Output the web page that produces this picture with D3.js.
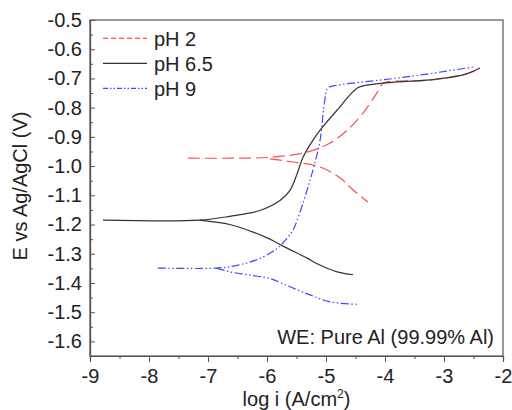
<!DOCTYPE html>
<html>
<head>
<meta charset="utf-8">
<script src="https://cdn.jsdelivr.net/npm/d3@7"></script>
<style>
  body { margin: 0; background: #fff; }
  svg text { font-family: "Liberation Sans", Arial, sans-serif; fill: #222; }
</style>
</head>
<body>
<svg id="chart" width="512" height="410"></svg>
<script>
// tick values
const xTicks = [-9, -8, -7, -6, -5, -4, -3, -2];
const yTicks = [-0.5, -0.6, -0.7, -0.8, -0.9, -1.0, -1.1, -1.2, -1.3, -1.4, -1.5, -1.6];

// pH 2 (red dashed) [log i, E]
const ph2Anodic = [[-7.34, -0.973], [-6.6, -0.973], [-5.95, -0.970], [-5.32, -0.952], [-4.93, -0.921],
  [-4.64, -0.877], [-4.37, -0.818], [-4.14, -0.750], [-4.03, -0.716], [-3.95, -0.711],
  [-3.24, -0.706], [-2.95, -0.697], [-2.61, -0.684], [-2.45, -0.672]];
const ph2Cathodic = [[-5.95, -0.975], [-5.56, -0.986], [-5.10, -1.003], [-4.76, -1.041],
  [-4.54, -1.082], [-4.29, -1.123]];

// pH 6.5 (black solid)
const ph65Anodic = [[-8.78, -1.185], [-7.14, -1.185], [-6.63, -1.172], [-6.12, -1.152], [-5.78, -1.118],
  [-5.61, -1.083], [-5.49, -1.026], [-5.39, -0.970], [-5.22, -0.911], [-5.10, -0.877],
  [-4.81, -0.808], [-4.47, -0.733], [-4.31, -0.723], [-3.80, -0.712], [-3.24, -0.705],
  [-2.68, -0.688], [-2.39, -0.664]];
const ph65Cathodic = [[-7.14, -1.185], [-6.63, -1.200], [-6.29, -1.222], [-5.95, -1.250],
  [-5.73, -1.274], [-5.32, -1.315], [-5.15, -1.334], [-4.81, -1.362], [-4.54, -1.372]];

// pH 9 (blue dash-dot-dot)
const ph9Anodic = [[-7.85, -1.349], [-6.85, -1.349], [-6.51, -1.340], [-6.12, -1.316], [-5.83, -1.282],
  [-5.69, -1.254], [-5.56, -1.219], [-5.39, -1.127], [-5.27, -1.048], [-5.19, -0.990],
  [-5.10, -0.911], [-5.02, -0.774], [-4.97, -0.733], [-4.81, -0.723], [-4.37, -0.712],
  [-3.80, -0.699], [-3.19, -0.682], [-2.51, -0.661]];
const ph9Cathodic = [[-6.85, -1.349], [-6.63, -1.362], [-6.29, -1.373], [-5.95, -1.385],
  [-5.61, -1.413], [-5.27, -1.441], [-4.93, -1.465], [-4.47, -1.473]];

const seriesNames = ["pH 2", "pH 6.5", "pH 9"];
const seriesColors = ["#ff4f4f", "#333333", "#4545ff"];
const seriesDash = ["12,5", null, "8,2.5,1.5,2.5,1.5,2.5"];
const legendDash = ["5,3", null, "5,2,1.5,2,1.5,2"];

const svg = d3.select("#chart");
const margin = { left: 90, top: 20, right: 503, bottom: 356 };
const fontSize = 20;

const x = d3.scaleLinear().domain([-9, -2]).range([margin.left, margin.right]);
const y = d3.scaleLinear().domain([-1.65, -0.5]).range([margin.bottom, margin.top]);

const fmt = d => d3.format(".1f")(d).replace("\u2212", "-");
const fmtX = d => d3.format("d")(d).replace("\u2212", "-");

// curves
const line = d3.line().x(d => x(d[0])).y(d => y(d[1])).curve(d3.curveCatmullRom.alpha(0.5));
const curves = [
  [ph2Anodic, 0], [ph2Cathodic, 0],
  [ph65Anodic, 1], [ph65Cathodic, 1],
  [ph9Anodic, 2], [ph9Cathodic, 2]
];
curves.forEach(([pts, i]) => {
  svg.append("path")
    .attr("d", line(pts))
    .attr("fill", "none")
    .attr("stroke", seriesColors[i])
    .attr("stroke-width", 1.2)
    .attr("stroke-dasharray", seriesDash[i]);
});

// frame
svg.append("rect")
  .attr("x", margin.left).attr("y", margin.top)
  .attr("width", margin.right - margin.left).attr("height", margin.bottom - margin.top)
  .attr("fill", "none").attr("stroke", "#555").attr("stroke-width", 1.2);

// y axis (ticks inside)
const yAxis = svg.append("g").attr("transform", `translate(${margin.left},0)`)
  .call(d3.axisLeft(y).tickValues(yTicks).tickSize(-5).tickPadding(8).tickFormat(fmt));
yAxis.selectAll("text").attr("font-size", fontSize);
svg.append("g").attr("transform", `translate(${margin.left},0)`)
  .call(d3.axisLeft(y).tickValues(yTicks.map(v => v - 0.05)).tickSize(-3).tickFormat(""));

// x axis (ticks outside)
const xAxis = svg.append("g").attr("transform", `translate(0,${margin.bottom})`)
  .call(d3.axisBottom(x).tickValues(xTicks).tickSize(6).tickPadding(7).tickFormat(fmtX));
xAxis.selectAll("text").attr("font-size", fontSize);
svg.append("g").attr("transform", `translate(0,${margin.bottom})`)
  .call(d3.axisBottom(x).tickValues(xTicks.slice(0, -1).map(v => v + 0.5)).tickSize(3).tickFormat(""));

svg.selectAll(".domain").attr("stroke", "#555").attr("stroke-width", 1.2);
svg.selectAll(".tick line").attr("stroke", "#555");
svg.selectAll(".tick text").attr("fill", "#222").attr("font-family", "Liberation Sans, Arial, sans-serif");

// axis titles
svg.append("text")
  .attr("transform", `translate(27,${(margin.top + margin.bottom) / 2 - 2}) rotate(-90)`)
  .attr("text-anchor", "middle").attr("font-size", fontSize)
  .text("E vs Ag/AgCl (V)");
const xt = svg.append("text")
  .attr("x", (margin.left + margin.right) / 2).attr("y", 406)
  .attr("text-anchor", "middle").attr("font-size", fontSize);
xt.append("tspan").text("log i (A/cm");
xt.append("tspan").attr("font-size", 12).attr("dy", -8).text("2");
xt.append("tspan").attr("dy", 8).text(")");

// legend
seriesNames.forEach((name, i) => {
  const ly = 38.3 + i * 25;
  svg.append("line")
    .attr("x1", 103).attr("x2", 147).attr("y1", ly).attr("y2", ly)
    .attr("stroke", seriesColors[i]).attr("stroke-width", 1.2)
    .attr("stroke-dasharray", legendDash[i]);
  svg.append("text").attr("x", 154).attr("y", ly + 8).attr("font-size", fontSize).text(name);
});

// annotation
svg.append("text")
  .attr("x", 494).attr("y", 344).attr("text-anchor", "end").attr("font-size", fontSize)
  .text("WE: Pure Al (99.99% Al)");
</script>
</body>
</html>
